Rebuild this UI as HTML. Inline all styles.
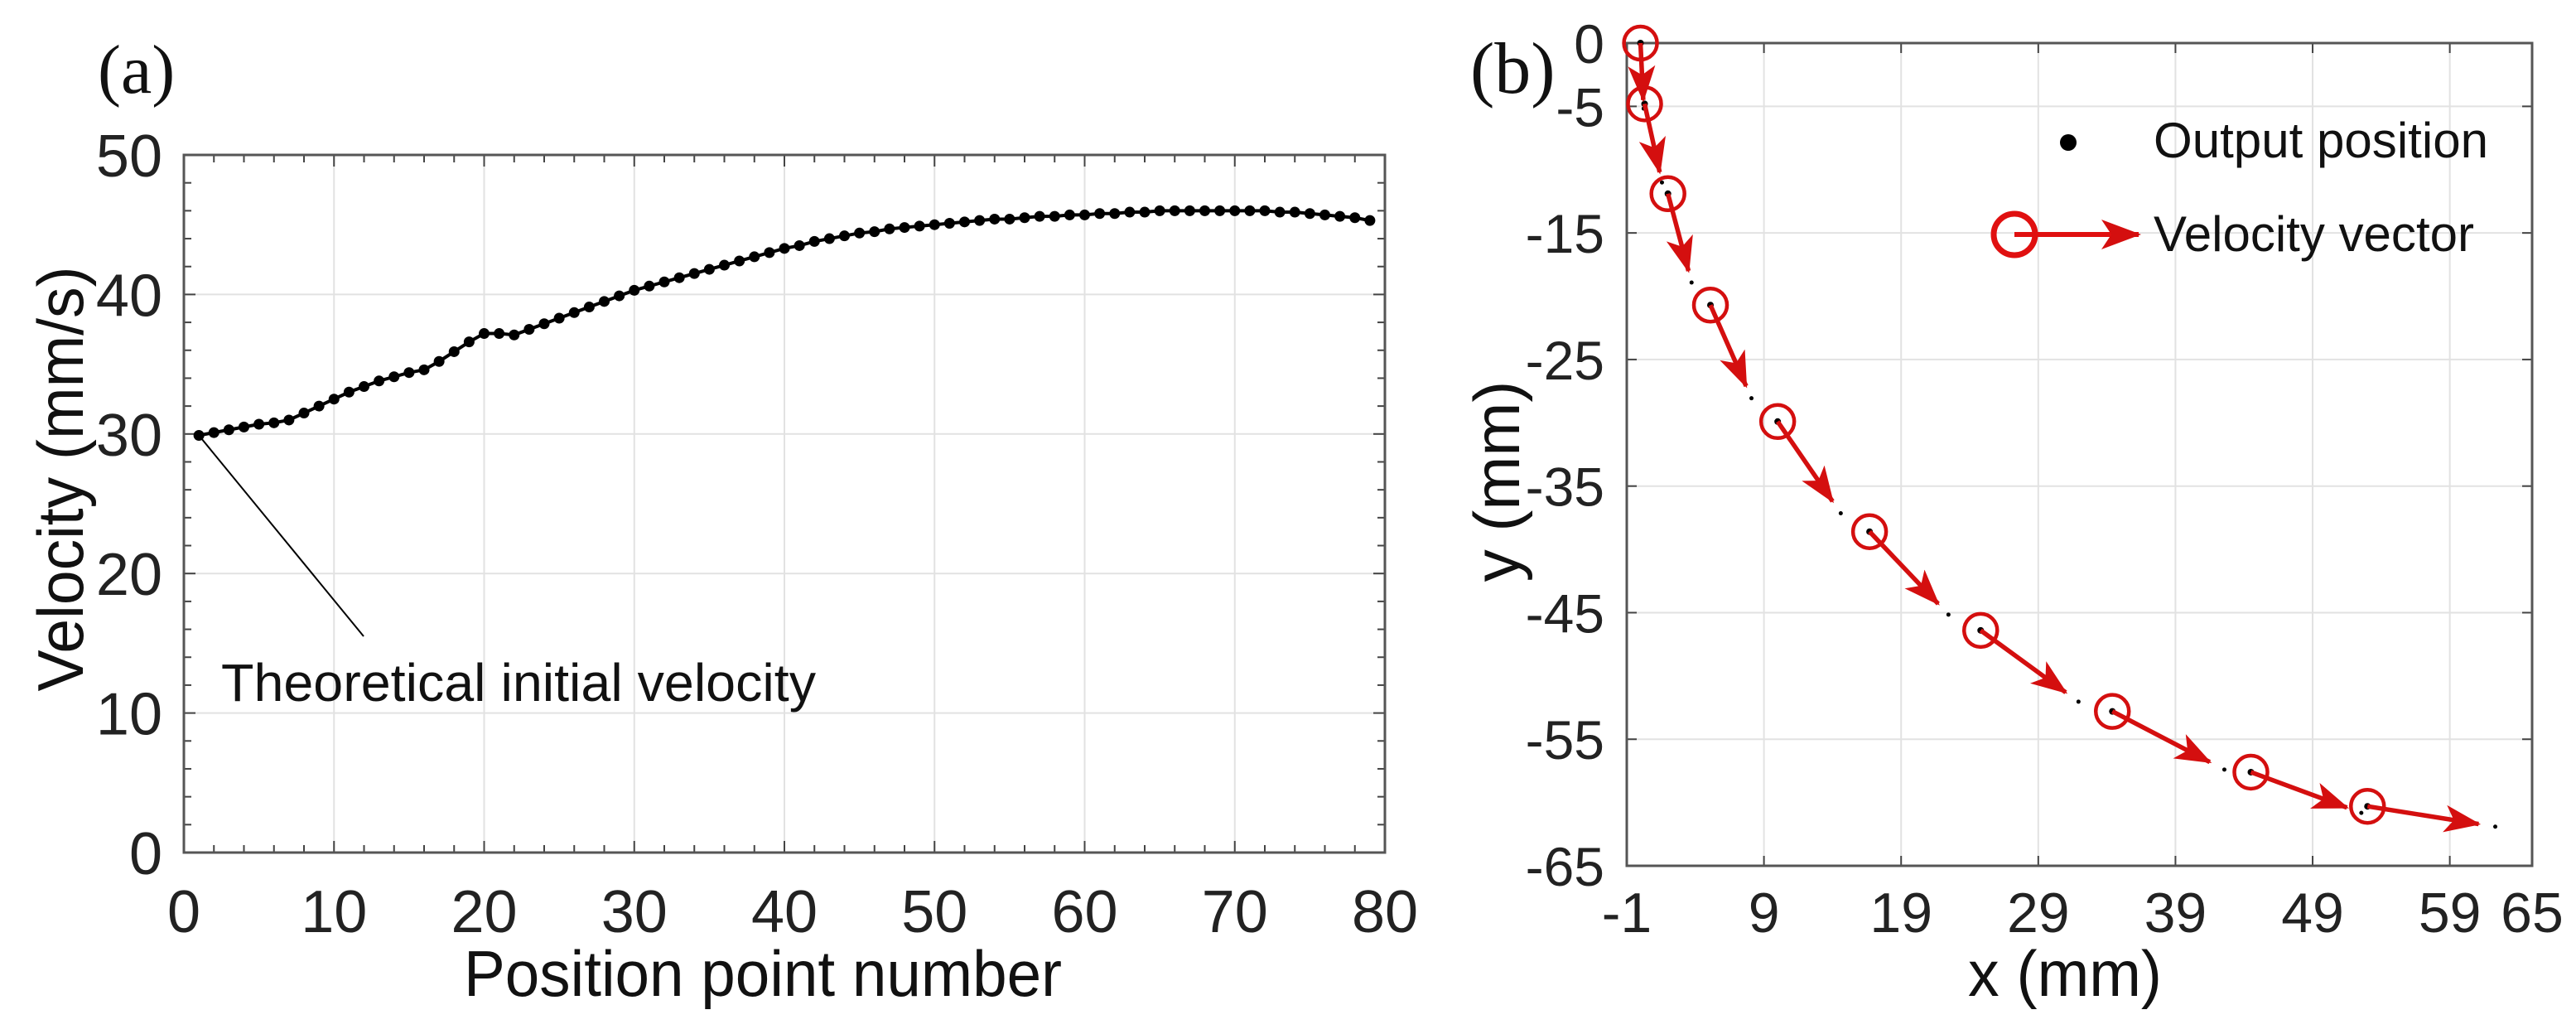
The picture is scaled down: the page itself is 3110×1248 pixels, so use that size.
<!DOCTYPE html>
<html><head><meta charset="utf-8"><style>
html,body{margin:0;padding:0;background:#fff;}
svg{display:block;font-family:"Liberation Sans",Arial,sans-serif;}
</style></head><body>
<svg id="fig" width="3110" height="1248" viewBox="0 0 3110 1248" xmlns="http://www.w3.org/2000/svg">
<g id="pa"></g>
<g id="pb"></g>
</svg>
<script>
// ---------- Panel (a) data ----------
const velPoints = [1,2,3,4,5,6,7,8,9,10,11,12,13,14,15,16,17,18,19,20,21,22,23,24,25,26,27,28,29,30,31,32,33,34,35,36,37,38,39,40,41,42,43,44,45,46,47,48,49,50,51,52,53,54,55,56,57,58,59,60,61,62,63,64,65,66,67,68,69,70,71,72,73,74,75,76,77,78,79];
const velValues = [29.9,30.1,30.3,30.5,30.7,30.8,31.0,31.5,32.0,32.5,33.0,33.4,33.8,34.1,34.4,34.6,35.2,35.9,36.6,37.2,37.2,37.1,37.5,37.9,38.3,38.7,39.1,39.5,39.9,40.3,40.6,40.9,41.2,41.5,41.8,42.1,42.4,42.7,43.0,43.3,43.5,43.8,44.0,44.2,44.4,44.5,44.7,44.8,44.9,45.0,45.1,45.2,45.3,45.4,45.4,45.5,45.6,45.6,45.7,45.7,45.8,45.8,45.9,45.9,46.0,46.0,46.0,46.0,46.0,46.0,46.0,46.0,45.9,45.9,45.8,45.7,45.6,45.5,45.3];
const velXTicks = [0,10,20,30,40,50,60,70,80];
const velYTicks = [0,10,20,30,40,50];
// ---------- Panel (b) data ----------
const posX = [0.0,0.3,2.0,5.1,10.0,16.7,24.8,34.4,44.5,53.0];
const posY = [0.0,-4.8,-11.9,-20.7,-29.9,-38.6,-46.4,-52.8,-57.6,-60.3];
const velDX = [0.2,1.1,1.5,2.6,4.0,5.0,6.2,7.1,7.0,8.1];
const velDY = [-4.5,-5.4,-6.1,-6.4,-6.3,-5.7,-4.9,-4.0,-2.8,-1.4];
const trajXTicks = [-1,9,19,29,39,49,59,65];
const trajYTicks = [0,-5,-15,-25,-35,-45,-55,-65];

const NS="http://www.w3.org/2000/svg";
function mk(parent,tag,attrs,text){const e=document.createElementNS(NS,tag);for(const k in attrs)e.setAttribute(k,attrs[k]);if(text!==undefined)e.textContent=text;parent.appendChild(e);return e;}

// ===== Panel (a) =====
const A=document.getElementById('pa');
const aL=222,aR=1672,aT=187,aB=1029;
const ax=v=>aL+(v-0)/(80-0)*(aR-aL);
const ay=v=>aB-(v-0)/(50-0)*(aB-aT);
for(const t of velXTicks){ if(t>0&&t<80){const g=mk(A,'line',{x1:ax(t),x2:ax(t),y1:aT,y2:aB,stroke:'#e2e2e2','stroke-width':2});

}}
for(const t of velYTicks){ if(t>0&&t<50){const g=mk(A,'line',{x1:aL,x2:aR,y1:ay(t),y2:ay(t),stroke:'#e2e2e2','stroke-width':2});

}}
for(let v=0;v<=80;v+=2){const big=v%10===0;const L=big?14:9;
mk(A,'line',{x1:ax(v),x2:ax(v),y1:aB,y2:aB-L,stroke:'#444','stroke-width':2});
mk(A,'line',{x1:ax(v),x2:ax(v),y1:aT,y2:aT+L,stroke:'#444','stroke-width':2});}
for(let v=0;v<=50;v+=2){const big=v%10===0;const L=big?14:9;
mk(A,'line',{x1:aL,x2:aL+L,y1:ay(v),y2:ay(v),stroke:'#444','stroke-width':2});
mk(A,'line',{x1:aR,x2:aR-L,y1:ay(v),y2:ay(v),stroke:'#444','stroke-width':2});}
const abox=mk(A,'rect',{x:aL,y:aT,width:aR-aL,height:aB-aT,fill:'none',stroke:'#555','stroke-width':3});


for(const t of velXTicks){const e=mk(A,'text',{x:ax(t),y:1125,'font-size':72,'text-anchor':'middle',fill:'#222'},String(t));

}
for(const t of velYTicks){const e=mk(A,'text',{x:196,y:ay(t)+26,'font-size':72,'text-anchor':'end',fill:'#222'},String(t));

}
let d='';velPoints.forEach((p,i)=>{d+=(i?'L':'M')+ax(p)+','+ay(velValues[i]);});
const vl=mk(A,'path',{d:d,fill:'none',stroke:'#000','stroke-width':4});


velPoints.forEach((p,i)=>{const c=mk(A,'circle',{cx:ax(p),cy:ay(velValues[i]),r:6.5,fill:'#000'});

});
const an=mk(A,'line',{x1:ax(velPoints[0]),y1:ay(velValues[0]),x2:439,y2:768,stroke:'#000','stroke-width':2});


const at=mk(A,'text',{x:267,y:846,'font-size':64,fill:'#111',textLength:718,lengthAdjust:'spacingAndGlyphs'},'Theoretical initial velocity');


const axt=mk(A,'text',{x:921,y:1202,'font-size':78,'text-anchor':'middle',fill:'#111',textLength:722,lengthAdjust:'spacingAndGlyphs'},'Position point number');


const ayt=mk(A,'text',{x:0,y:0,'font-size':78,'text-anchor':'middle',fill:'#111',textLength:513,lengthAdjust:'spacingAndGlyphs',transform:'translate(100,578) rotate(-90)'},'Velocity (mm/s)');


const pla=mk(A,'text',{x:118,y:112,'font-size':84,'font-family':'Liberation Serif, serif',fill:'#111'},'(a)');



// ===== Panel (b) =====
const B=document.getElementById('pb');
const bL=1964,bR=3057,bT=52,bB=1045;
const bx=v=>bL+(v+1)/66*(bR-bL);
const by=v=>bT+(0-v)/65*(bB-bT);
for(const t of trajXTicks){const g=mk(B,'line',{x1:bx(t),x2:bx(t),y1:bT,y2:bB,stroke:'#e2e2e2','stroke-width':2});


mk(B,'line',{x1:bx(t),x2:bx(t),y1:bB,y2:bB-12,stroke:'#444','stroke-width':2});
mk(B,'line',{x1:bx(t),x2:bx(t),y1:bT,y2:bT+12,stroke:'#444','stroke-width':2});
const e=mk(B,'text',{x:bx(t),y:1125,'font-size':68,'text-anchor':'middle',fill:'#222'},String(t));

}
for(const t of trajYTicks){const g=mk(B,'line',{x1:bL,x2:bR,y1:by(t),y2:by(t),stroke:'#e2e2e2','stroke-width':2});


mk(B,'line',{x1:bL,x2:bL+12,y1:by(t),y2:by(t),stroke:'#444','stroke-width':2});
mk(B,'line',{x1:bR,x2:bR-12,y1:by(t),y2:by(t),stroke:'#444','stroke-width':2});
const e=mk(B,'text',{x:1937,y:by(t)+24,'font-size':66,'text-anchor':'end',fill:'#222'},String(t));

}
const bbox=mk(B,'rect',{x:bL,y:bT,width:bR-bL,height:bB-bT,fill:'none',stroke:'#555','stroke-width':3});


const defs=mk(B,'defs',{});
const m=mk(defs,'marker',{id:'ah',markerWidth:8,markerHeight:6,refX:7.5,refY:3,orient:'auto',markerUnits:'strokeWidth'});
mk(m,'path',{d:'M0,0 L8,3 L0,6 L2,3 Z',fill:'#d40f0f'});
posX.forEach((x,i)=>{const c=mk(B,'circle',{cx:bx(x),cy:by(posY[i]),r:4,fill:'#000'});


const t=mk(B,'circle',{cx:bx(x+velDX[i]*1.15),cy:by(posY[i]+velDY[i]*1.15),r:2.5,fill:'#000'});

});
posX.forEach((x,i)=>{
const l=mk(B,'line',{x1:bx(x),y1:by(posY[i]),x2:bx(x+velDX[i]),y2:by(posY[i]+velDY[i]),stroke:'#d40f0f','stroke-width':5.5,'marker-end':'url(#ah)'});


const c=mk(B,'circle',{cx:bx(x),cy:by(posY[i]),r:20,fill:'none',stroke:'#d40f0f','stroke-width':4.5});

});
const lg=mk(B,'g',{});


const ld=mk(lg,'circle',{cx:2497,cy:172,r:10,fill:'#000'});


const lt1=mk(lg,'text',{x:2600,y:190,'font-size':60,fill:'#111',textLength:404,lengthAdjust:'spacingAndGlyphs'},'Output position');


const la=mk(lg,'line',{x1:2432,y1:283,x2:2582,y2:283,stroke:'#e01010','stroke-width':6,'marker-end':'url(#ah)'});


mk(lg,'circle',{cx:2432,cy:283,r:25,fill:'none',stroke:'#e01010','stroke-width':7});
const lt2=mk(lg,'text',{x:2600,y:303,'font-size':60,fill:'#111',textLength:387,lengthAdjust:'spacingAndGlyphs'},'Velocity vector');


const bxt=mk(B,'text',{x:2493,y:1202,'font-size':78,'text-anchor':'middle',fill:'#111',textLength:234,lengthAdjust:'spacingAndGlyphs'},'x (mm)');


const byt=mk(B,'text',{x:0,y:0,'font-size':78,'text-anchor':'middle',fill:'#111',transform:'translate(1834,581) rotate(-90)'},'y (mm)');


const plb=mk(B,'text',{x:1775,y:112,'font-size':88,'font-family':'Liberation Serif, serif',fill:'#111'},'(b)');


</script>
</body></html>
